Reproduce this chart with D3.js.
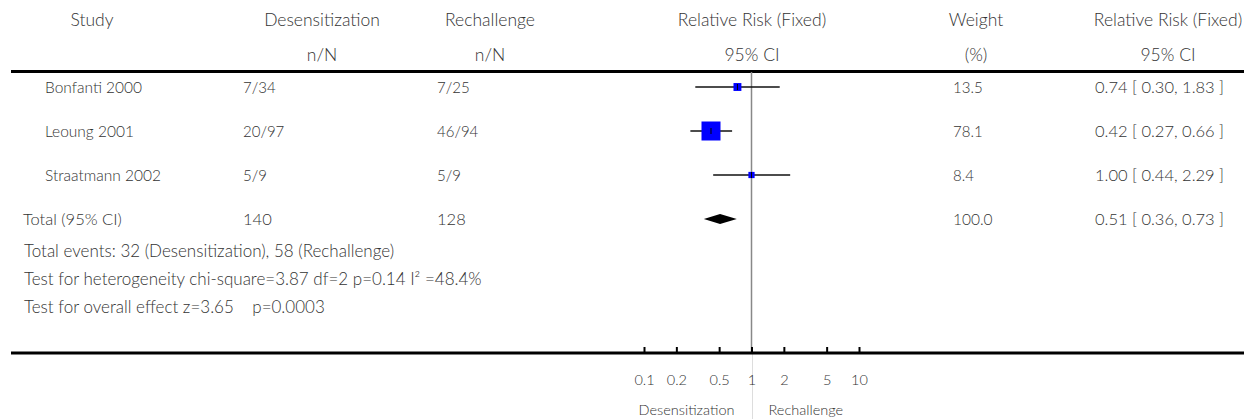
<!DOCTYPE html>
<html>
<head>
<meta charset="utf-8">
<script src="https://cdn.jsdelivr.net/npm/d3@7"></script>
<style>
  body { margin: 0; background: #fff; }
  svg { display: block; font-family: Lato, "Open Sans", sans-serif; font-weight: 300; }
  text { fill: #333; font-size: 16.5px; }
</style>
</head>
<body>
<svg id="chart" width="1244" height="419"></svg>
<script>
// study rows
const studies = ["Bonfanti 2000", "Leoung 2001", "Straatmann 2002"];
const desens = ["7/34", "20/97", "5/9"];
const rechal = ["7/25", "46/94", "5/9"];
const rr = [0.74, 0.42, 1.00];
const lower = [0.30, 0.27, 0.44];
const upper = [1.83, 0.66, 2.29];
const weights = [13.5, 78.1, 8.4];

// pooled row
const totalDesens = "140";
const totalRechal = "128";
const totalRR = 0.51, totalLo = 0.36, totalHi = 0.73;
const totalWeight = 100.0;

const footer = [
  "Total events: 32 (Desensitization), 58 (Rechallenge)",
  "Test for heterogeneity chi-square=3.87 df=2 p=0.14 I\u00b2 =48.4%",
  "Test for overall effect z=3.65    p=0.0003"
];

const axisTicks = [0.1, 0.2, 0.5, 1, 2, 5, 10];

const svg = d3.select("#chart");
const width = 1244;

const x = d3.scaleLog().domain([0.1, 10]).range([644, 859]);
const size = d3.scaleSqrt().domain([0, 100]).range([0, 21.5]);

const rowY = i => 87 + i * 44;
const totalY = 219;
const axisY = 353;

const fmt2 = d3.format(".2f");
const ciText = (e, l, h) => fmt2(e) + " [ " + fmt2(l) + ", " + fmt2(h) + " ]";

// header
const header = [
  { x: 92, a: "Study", b: "" },
  { x: 322, a: "Desensitization", b: "n/N" },
  { x: 490, a: "Rechallenge", b: "n/N" },
  { x: 752, a: "Relative Risk (Fixed)", b: "95% CI" },
  { x: 976, a: "Weight", b: "(%)" },
  { x: 1168, a: "Relative Risk (Fixed)", b: "95% CI" }
];
const hg = svg.append("g");
hg.selectAll(".h1").data(header).join("text")
  .attr("x", d => d.x).attr("y", 26).attr("text-anchor", "middle").style("font-size", "17.5px").text(d => d.a);
hg.selectAll(".h2").data(header).join("text")
  .attr("x", d => d.x).attr("y", 61).attr("text-anchor", "middle").style("font-size", "17.5px").text(d => d.b);

// rules
svg.append("line").attr("x1", 11).attr("x2", width).attr("y1", 71.5).attr("y2", 71.5)
  .attr("stroke", "#000").attr("stroke-width", 3);

// null line
svg.append("line").attr("x1", x(1)).attr("x2", x(1)).attr("y1", 72).attr("y2", axisY)
  .attr("stroke", "#888").attr("stroke-width", 1.5);
svg.append("line").attr("x1", x(1) + 1).attr("x2", x(1) + 1).attr("y1", axisY).attr("y2", 419)
  .attr("stroke", "#ddd").attr("stroke-width", 1);

// study text columns
const rows = studies.map((s, i) => ({
  study: s, d: desens[i], r: rechal[i], rr: rr[i], lo: lower[i], hi: upper[i], w: weights[i], y: rowY(i)
}));
const rg = svg.append("g").selectAll("g").data(rows).join("g");
rg.append("text").attr("x", 45).attr("y", d => d.y + 6).style("font-size", "15.5px").text(d => d.study);
rg.append("text").attr("x", 243).attr("y", d => d.y + 6).style("font-size", "15px").text(d => d.d);
rg.append("text").attr("x", 437).attr("y", d => d.y + 6).style("font-size", "15px").text(d => d.r);
rg.append("text").attr("x", 953).attr("y", d => d.y + 6).style("font-size", "15px").text(d => d.w.toFixed(1));
rg.append("text").attr("x", 1095).attr("y", d => d.y + 6).text(d => ciText(d.rr, d.lo, d.hi));

// CI lines, boxes, centre ticks
rg.append("line")
  .attr("x1", d => x(d.lo)).attr("x2", d => x(d.hi))
  .attr("y1", d => d.y).attr("y2", d => d.y)
  .attr("stroke", "#111").attr("stroke-width", 1.5);
rg.append("rect")
  .attr("x", d => x(d.rr) - size(d.w) / 2).attr("y", d => d.y - size(d.w) / 2)
  .attr("width", d => size(d.w)).attr("height", d => size(d.w))
  .attr("fill", "#0000ff");
rg.append("line")
  .attr("x1", d => x(d.rr)).attr("x2", d => x(d.rr))
  .attr("y1", d => d.y - 3).attr("y2", d => d.y + 3)
  .attr("stroke", "#000").attr("stroke-width", 1);

// total row
const tg = svg.append("g");
tg.append("text").attr("x", 23).attr("y", totalY + 6).text("Total (95% CI)");
tg.append("text").attr("x", 243).attr("y", totalY + 6).text(totalDesens);
tg.append("text").attr("x", 437).attr("y", totalY + 6).text(totalRechal);
tg.append("text").attr("x", 953).attr("y", totalY + 6).style("font-size", "15.5px").text(totalWeight.toFixed(1));
tg.append("text").attr("x", 1095).attr("y", totalY + 6).text(ciText(totalRR, totalLo, totalHi));
tg.append("path")
  .attr("d", d3.line()([
    [x(totalLo), totalY], [x(totalRR), totalY - 5], [x(totalHi), totalY], [x(totalRR), totalY + 5]
  ]) + "Z")
  .attr("fill", "#000");

// footer notes
svg.append("g").selectAll("text").data(footer).join("text")
  .attr("x", 24).attr("y", (d, i) => 257 + i * 28)
  .style("white-space", "pre").style("font-size", "17px")
  .text(d => d);

// axis
svg.append("line").attr("x1", 11).attr("x2", width).attr("y1", axisY).attr("y2", axisY)
  .attr("stroke", "#000").attr("stroke-width", 3);
const ax = svg.append("g").attr("transform", `translate(0,${axisY})`)
  .call(d3.axisBottom(x).tickValues(axisTicks).tickFormat(d3.format("~g"))
    .tickSizeInner(-6).tickSizeOuter(0).tickPadding(22));
ax.select(".domain").remove();
ax.selectAll(".tick line").attr("stroke", "#000").attr("stroke-width", 2);
ax.selectAll(".tick text").attr("fill", "#333").style("font-size", "14.5px")
  .style("font-family", "Lato, 'Open Sans', sans-serif");

svg.append("text").attr("x", x(1) - 17).attr("y", 415).attr("text-anchor", "end")
  .style("font-size", "14.5px").text("Desensitization");
svg.append("text").attr("x", x(1) + 17).attr("y", 415).attr("text-anchor", "start")
  .style("font-size", "14.5px").text("Rechallenge");
</script>
</body>
</html>
